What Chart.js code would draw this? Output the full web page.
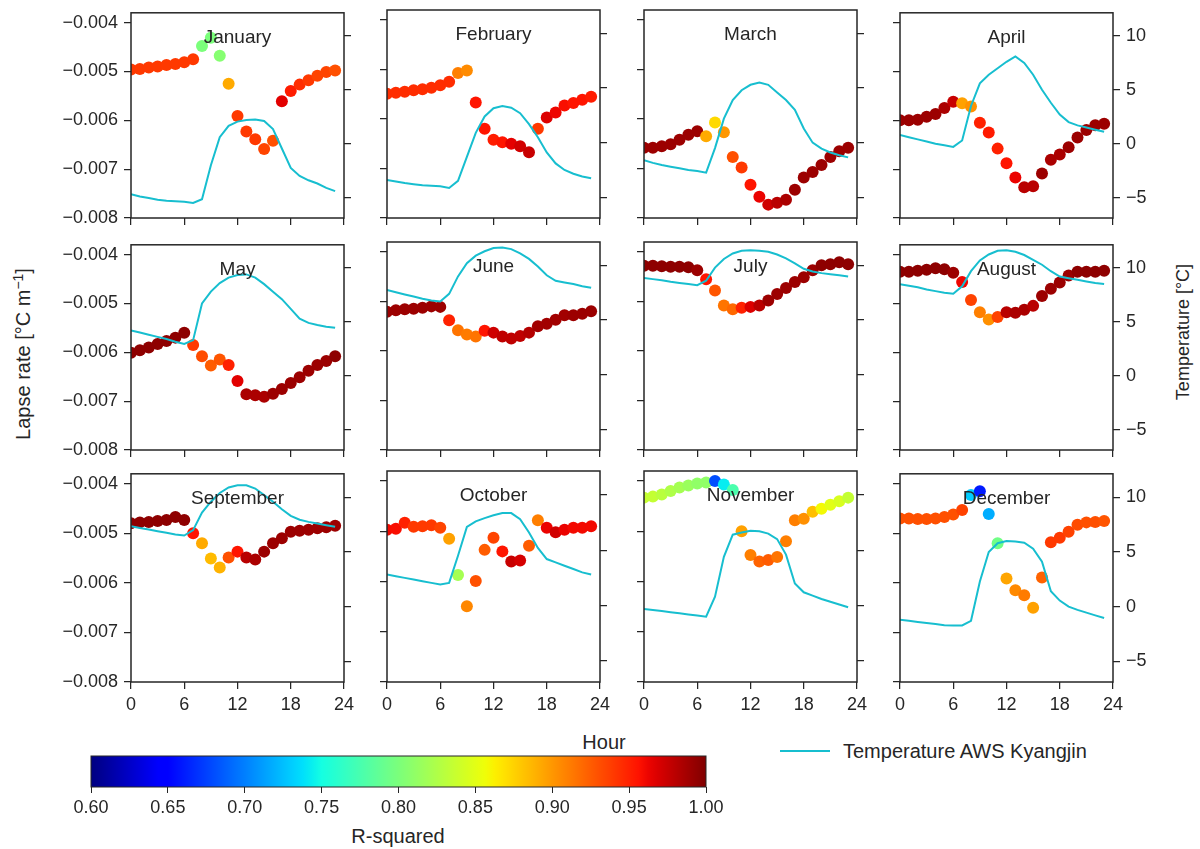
<!DOCTYPE html>
<html>
<head>
<meta charset="utf-8">
<script src="https://cdn.jsdelivr.net/npm/chart.js@4.4.0/dist/chart.umd.min.js"></script>
<style>
  body { margin: 0; background: #fff; }
  #fig { position: relative; width: 1200px; height: 849px; overflow: hidden;
         font-family: "Liberation Sans", Arial, sans-serif; color: #262626; }
  #fig canvas { position: absolute; }
  .lbl { position: absolute; white-space: nowrap; font-size: 18px; line-height: 1; }
  .big { font-size: 20px; }
  .rot { transform: translate(-50%, -50%) rotate(-90deg); }
  .ctr { transform: translate(-50%, -50%); }
</style>
</head>
<body>
<div id="fig">
  <div class="lbl rot" style="left:22px; top:354px; font-size:20px;">Lapse rate [°C m<sup style="font-size:14px">−1</sup>]</div>
  <div class="lbl rot" style="left:1183px; top:332px;">Temperature [°C]</div>
  <div class="lbl big ctr" style="left:604px; top:742px;">Hour</div>
  <div class="lbl big ctr" style="left:398px; top:836px;">R-squared</div>
  <div style="position:absolute; left:780px; top:750px; width:50px; height:2px; background:#17becf;"></div>
  <div class="lbl big" style="left:843px; top:741px;">Temperature AWS Kyangjin</div>
</div>
<script>
const hours = [0, 1, 2, 3, 4, 5, 6, 7, 8, 9, 10, 11, 12, 13, 14, 15, 16, 17, 18, 19, 20, 21, 22, 23];
const monthNames = ['January', 'February', 'March', 'April', 'May', 'June',
  'July', 'August', 'September', 'October', 'November', 'December'];

// lapse rate [°C/m] per hour
const lapseJan = [-0.00496, -0.00495, -0.00492, -0.00490, -0.00487, -0.00485, -0.00481, -0.00475, -0.00448, -0.00431, -0.00468, -0.00525, -0.00591, -0.00623, -0.00639, -0.00659, -0.00642, -0.00561, -0.00540, -0.00527, -0.00518, -0.00509, -0.00501, -0.00498];
const lapseFeb = [-0.00549, -0.00547, -0.00545, -0.00542, -0.00540, -0.00537, -0.00532, -0.00525, -0.00507, -0.00502, -0.00567, -0.00620, -0.00642, -0.00647, -0.00650, -0.00655, -0.00667, -0.00620, -0.00597, -0.00587, -0.00573, -0.00568, -0.00561, -0.00555];
const lapseMar = [-0.00658, -0.00658, -0.00655, -0.00651, -0.00642, -0.00632, -0.00625, -0.00635, -0.00607, -0.00627, -0.00677, -0.00698, -0.00733, -0.00757, -0.00773, -0.00769, -0.00763, -0.00743, -0.00718, -0.00707, -0.00693, -0.00677, -0.00665, -0.00658];
const lapseApr = [-0.00600, -0.00600, -0.00599, -0.00593, -0.00587, -0.00575, -0.00562, -0.00565, -0.00572, -0.00605, -0.00625, -0.00658, -0.00688, -0.00717, -0.00737, -0.00735, -0.00709, -0.00681, -0.00670, -0.00655, -0.00635, -0.00620, -0.00610, -0.00607];
const lapseMay = [-0.00601, -0.00596, -0.00590, -0.00583, -0.00577, -0.00570, -0.00560, -0.00585, -0.00608, -0.00627, -0.00615, -0.00626, -0.00659, -0.00686, -0.00688, -0.00691, -0.00685, -0.00675, -0.00663, -0.00651, -0.00638, -0.00626, -0.00618, -0.00608];
const lapseJun = [-0.00521, -0.00518, -0.00516, -0.00515, -0.00513, -0.00510, -0.00511, -0.00538, -0.00558, -0.00567, -0.00571, -0.00559, -0.00563, -0.00571, -0.00575, -0.00570, -0.00563, -0.00550, -0.00545, -0.00537, -0.00528, -0.00528, -0.00525, -0.00520];
const lapseJul = [-0.00428, -0.00428, -0.00429, -0.00430, -0.00430, -0.00431, -0.00437, -0.00455, -0.00478, -0.00508, -0.00516, -0.00513, -0.00511, -0.00508, -0.00498, -0.00485, -0.00473, -0.00461, -0.00451, -0.00437, -0.00427, -0.00425, -0.00421, -0.00425];
const lapseAug = [-0.00435, -0.00435, -0.00433, -0.00431, -0.00428, -0.00430, -0.00437, -0.00456, -0.00493, -0.00518, -0.00533, -0.00528, -0.00518, -0.00519, -0.00513, -0.00505, -0.00485, -0.00470, -0.00457, -0.00443, -0.00435, -0.00435, -0.00435, -0.00433];
const lapseSep = [-0.00480, -0.00478, -0.00477, -0.00475, -0.00473, -0.00467, -0.00473, -0.00500, -0.00520, -0.00551, -0.00569, -0.00549, -0.00537, -0.00549, -0.00553, -0.00537, -0.00520, -0.00510, -0.00497, -0.00495, -0.00493, -0.00490, -0.00488, -0.00485];
const lapseOct = [-0.00497, -0.00495, -0.00483, -0.00491, -0.00490, -0.00488, -0.00493, -0.00515, -0.00587, -0.00649, -0.00599, -0.00537, -0.00513, -0.00540, -0.00560, -0.00558, -0.00529, -0.00478, -0.00493, -0.00502, -0.00497, -0.00493, -0.00493, -0.00490];
const lapseNov = [-0.00433, -0.00431, -0.00427, -0.00420, -0.00413, -0.00409, -0.00405, -0.00403, -0.00400, -0.00407, -0.00418, -0.00500, -0.00547, -0.00560, -0.00557, -0.00551, -0.00520, -0.00478, -0.00475, -0.00461, -0.00455, -0.00447, -0.00440, -0.00433];
const lapseDec = [-0.00470, -0.00470, -0.00471, -0.00471, -0.00470, -0.00467, -0.00462, -0.00453, -0.00423, -0.00415, -0.00461, -0.00520, -0.00591, -0.00615, -0.00625, -0.00650, -0.00589, -0.00518, -0.00509, -0.00497, -0.00483, -0.00478, -0.00477, -0.00475];

// R-squared of each hourly fit
const r2Jan = [0.94, 0.94, 0.94, 0.94, 0.94, 0.94, 0.94, 0.94, 0.80, 0.80, 0.805, 0.892, 0.94, 0.94, 0.94, 0.935, 0.93, 0.966, 0.952, 0.945, 0.94, 0.935, 0.935, 0.93];
const r2Feb = [0.945, 0.945, 0.945, 0.945, 0.945, 0.945, 0.945, 0.945, 0.91, 0.905, 0.955, 0.955, 0.952, 0.955, 0.965, 0.972, 0.975, 0.94, 0.968, 0.962, 0.958, 0.955, 0.955, 0.952];
const r2Mar = [0.99, 0.99, 0.99, 0.99, 0.99, 0.99, 0.99, 0.892, 0.872, 0.90, 0.93, 0.94, 0.955, 0.963, 0.973, 0.98, 0.985, 0.99, 0.99, 0.99, 0.99, 0.99, 0.99, 0.99];
const r2Apr = [0.99, 0.99, 0.99, 0.99, 0.99, 0.985, 0.975, 0.896, 0.902, 0.95, 0.953, 0.95, 0.955, 0.963, 0.98, 0.98, 0.99, 0.985, 0.985, 0.99, 0.99, 0.99, 0.99, 0.99];
const r2May = [0.995, 0.995, 0.995, 0.995, 0.995, 0.995, 0.995, 0.94, 0.932, 0.925, 0.928, 0.95, 0.966, 0.985, 0.985, 0.985, 0.99, 0.99, 0.99, 0.99, 0.99, 0.99, 0.99, 0.995];
const r2Jun = [0.99, 0.99, 0.99, 0.99, 0.99, 0.99, 0.99, 0.95, 0.915, 0.912, 0.915, 0.955, 0.973, 0.978, 0.978, 0.978, 0.982, 0.988, 0.988, 0.988, 0.988, 0.99, 0.99, 0.99];
const r2Jul = [0.995, 0.995, 0.995, 0.995, 0.995, 0.995, 0.99, 0.955, 0.928, 0.915, 0.92, 0.95, 0.968, 0.98, 0.99, 0.99, 0.99, 0.99, 0.99, 0.99, 0.995, 0.995, 0.995, 0.995];
const r2Aug = [0.995, 0.995, 0.995, 0.995, 0.995, 0.995, 0.99, 0.962, 0.936, 0.91, 0.903, 0.936, 0.98, 0.985, 0.985, 0.98, 0.99, 0.99, 0.99, 0.99, 0.995, 0.995, 0.995, 0.995];
const r2Sep = [0.995, 0.995, 0.995, 0.995, 0.995, 0.995, 0.995, 0.955, 0.892, 0.885, 0.888, 0.93, 0.955, 0.98, 0.985, 0.99, 0.99, 0.99, 0.99, 0.99, 0.99, 0.99, 0.99, 0.99];
const r2Oct = [0.96, 0.958, 0.95, 0.94, 0.94, 0.94, 0.935, 0.896, 0.82, 0.907, 0.93, 0.925, 0.935, 0.955, 0.975, 0.97, 0.925, 0.91, 0.963, 0.972, 0.963, 0.96, 0.96, 0.96];
const r2Nov = [0.836, 0.835, 0.83, 0.825, 0.82, 0.815, 0.81, 0.81, 0.68, 0.743, 0.776, 0.896, 0.91, 0.922, 0.925, 0.915, 0.91, 0.91, 0.903, 0.883, 0.858, 0.85, 0.845, 0.835];
const r2Dec = [0.93, 0.93, 0.93, 0.93, 0.93, 0.93, 0.93, 0.936, 0.73, 0.66, 0.718, 0.795, 0.894, 0.906, 0.912, 0.896, 0.922, 0.94, 0.94, 0.936, 0.932, 0.93, 0.93, 0.928];

// temperature at AWS Kyangjin [°C]
const tempJan = [-4.7, -4.9, -5.05, -5.2, -5.3, -5.35, -5.4, -5.5, -5.15, -2.0, 0.6, 1.65, 2.05, 2.2, 2.25, 2.1, 1.35, -0.45, -2.25, -3.0, -3.4, -3.7, -4.1, -4.4];
const tempFeb = [-3.42, -3.55, -3.7, -3.8, -3.9, -3.95, -4.0, -4.15, -3.5, -1.3, 0.9, 2.4, 3.15, 3.35, 3.2, 2.7, 1.7, 0.5, -0.9, -1.9, -2.5, -2.85, -3.1, -3.25];
const tempMar = [-1.6, -1.85, -2.05, -2.2, -2.35, -2.5, -2.6, -2.75, -0.5, 2.2, 3.9, 4.8, 5.3, 5.5, 5.3, 4.6, 3.9, 3.0, 1.3, 0.0, -0.55, -0.9, -1.15, -1.35];
const tempApr = [0.8, 0.6, 0.4, 0.2, 0.0, -0.15, -0.3, 0.3, 3.5, 5.6, 6.4, 7.0, 7.6, 8.1, 7.5, 6.4, 5.0, 3.8, 2.7, 2.0, 1.7, 1.5, 1.3, 1.1];
const tempMay = [4.2, 4.0, 3.8, 3.6, 3.4, 3.15, 2.95, 3.3, 6.7, 7.8, 8.6, 9.1, 9.35, 9.4, 9.1, 8.5, 7.8, 7.1, 6.2, 5.3, 4.9, 4.7, 4.55, 4.45];
const tempJun = [7.75, 7.55, 7.35, 7.15, 6.95, 6.8, 6.7, 7.4, 9.0, 10.2, 10.9, 11.3, 11.6, 11.65, 11.5, 11.1, 10.6, 9.9, 9.1, 8.6, 8.45, 8.3, 8.1, 7.95];
const tempJul = [8.85, 8.75, 8.65, 8.5, 8.4, 8.3, 8.2, 8.6, 9.8, 10.6, 11.1, 11.35, 11.4, 11.35, 11.25, 11.0, 10.65, 10.2, 9.7, 9.45, 9.3, 9.2, 9.1, 9.0];
const tempAug = [8.5, 8.35, 8.2, 8.0, 7.85, 7.7, 7.6, 8.3, 9.7, 10.7, 11.25, 11.6, 11.65, 11.5, 11.2, 10.75, 10.3, 9.7, 9.2, 9.05, 8.9, 8.75, 8.6, 8.5];
const tempSep = [7.35, 7.2, 7.05, 6.9, 6.75, 6.6, 6.5, 7.0, 8.6, 9.6, 10.4, 10.9, 11.1, 11.1, 10.8, 10.2, 9.6, 8.9, 8.3, 7.95, 7.75, 7.6, 7.45, 7.3];
const tempOct = [2.8, 2.65, 2.5, 2.35, 2.2, 2.05, 1.9, 2.05, 4.5, 7.1, 7.6, 7.9, 8.15, 8.35, 8.35, 7.8, 6.6, 5.2, 4.2, 3.9, 3.6, 3.3, 3.0, 2.8];
const tempNov = [-0.3, -0.4, -0.5, -0.6, -0.7, -0.8, -0.9, -1.0, 0.8, 4.4, 6.4, 6.6, 6.75, 6.7, 6.5, 6.0, 4.6, 2.0, 1.2, 0.9, 0.6, 0.35, 0.1, -0.15];
const tempDec = [-1.2, -1.3, -1.4, -1.5, -1.6, -1.7, -1.72, -1.72, -1.3, 2.3, 5.0, 5.8, 6.0, 5.95, 5.85, 5.3, 4.1, 1.4, 0.55, 0.0, -0.3, -0.55, -0.8, -1.05];

const lapseTicks = [-0.008, -0.007, -0.006, -0.005, -0.004];
const tempTicks = [-5, 0, 5, 10];
const hourTicks = [0, 6, 12, 18, 24];
const r2Ticks = [0.60, 0.65, 0.70, 0.75, 0.80, 0.85, 0.90, 0.95, 1.00];

const lapseSeries = [lapseJan, lapseFeb, lapseMar, lapseApr, lapseMay, lapseJun, lapseJul, lapseAug, lapseSep, lapseOct, lapseNov, lapseDec];
const r2Series = [r2Jan, r2Feb, r2Mar, r2Apr, r2May, r2Jun, r2Jul, r2Aug, r2Sep, r2Oct, r2Nov, r2Dec];
const tempSeries = [tempJan, tempFeb, tempMar, tempApr, tempMay, tempJun, tempJul, tempAug, tempSep, tempOct, tempNov, tempDec];

// matplotlib "jet" colormap, R-squared range 0.6 - 1.0
const jetRed = [[0, 0], [0.35, 0], [0.66, 1], [0.89, 1], [1, 0.5]];
const jetGreen = [[0, 0], [0.125, 0], [0.375, 1], [0.64, 1], [0.91, 0], [1, 0]];
const jetBlue = [[0, 0.5], [0.11, 1], [0.34, 1], [0.65, 0], [1, 0]];
function interp(pts, t) {
  for (let i = 1; i < pts.length; i++) {
    if (t <= pts[i][0]) {
      const f = (t - pts[i - 1][0]) / (pts[i][0] - pts[i - 1][0]);
      return pts[i - 1][1] + f * (pts[i][1] - pts[i - 1][1]);
    }
  }
  return pts[pts.length - 1][1];
}
function jet(v) {
  const t = Math.min(1, Math.max(0, (v - 0.6) / 0.4));
  const c = [jetRed, jetGreen, jetBlue].map(p => Math.round(interp(p, t) * 255));
  return `rgb(${c[0]},${c[1]},${c[2]})`;
}

const ink = '#262626';
const lineColor = '#17becf';
const font = { family: 'Liberation Sans, Arial, sans-serif', size: 18 };
const colLeft = [131, 387, 644, 900];
const rowTop = [10, 242, 471];
const rowHeight = [208, 208, 211];
const panelW = 213;
// canvas margins around each panel; padT is larger than half a tick label
// so Chart.js does not push the plot area down
const padL = 70, padR = 50, padT = 14, padB = 34;

const framePlugin = {
  id: 'frame',
  afterDraw(chart) {
    const a = chart.chartArea, ctx = chart.ctx;
    ctx.save();
    ctx.strokeStyle = ink;
    ctx.lineWidth = 1.5;
    ctx.strokeRect(a.left, a.top, a.right - a.left, a.bottom - a.top);
    ctx.restore();
  }
};

const titlePlugin = {
  id: 'monthTitle',
  afterDatasetsDraw(chart, args, opts) {
    if (!opts.text) return;
    const a = chart.chartArea, ctx = chart.ctx;
    ctx.save();
    ctx.font = '19px "Liberation Sans", Arial, sans-serif';
    ctx.fillStyle = ink;
    ctx.textAlign = 'center';
    ctx.textBaseline = 'middle';
    ctx.fillText(opts.text, (a.left + a.right) / 2, a.top + 25);
    ctx.restore();
  }
};

function tickGrid() {
  return { drawOnChartArea: false, drawTicks: true, tickLength: 7, color: ink, lineWidth: 1.25 };
}

const fig = document.getElementById('fig');

monthNames.forEach((name, m) => {
  const row = Math.floor(m / 4), col = m % 4;
  const h = rowHeight[row];
  const cv = document.createElement('canvas');
  cv.width = padL + panelW + padR;
  cv.height = padT + h + padB;
  cv.style.left = (colLeft[col] - padL) + 'px';
  cv.style.top = (rowTop[row] - padT) + 'px';
  fig.appendChild(cv);

  new Chart(cv, {
    type: 'line',
    data: {
      datasets: [{
        type: 'line',
        data: hours.map((hr, i) => ({ x: hr, y: tempSeries[m][i] })),
        yAxisID: 'y2',
        borderColor: lineColor,
        borderWidth: 2,
        pointRadius: 0,
        tension: 0,
        fill: false,
        order: 0
      }, {
        type: 'scatter',
        data: hours.map((hr, i) => ({ x: hr, y: lapseSeries[m][i] })),
        yAxisID: 'y',
        backgroundColor: r2Series[m].map(jet),
        pointBackgroundColor: r2Series[m].map(jet),
        pointRadius: 6,
        borderWidth: 0,
        pointBorderWidth: 0,
        order: 1
      }]
    },
    options: {
      responsive: false,
      animation: false,
      events: [],
      layout: { padding: { top: padT, left: 0, right: 0, bottom: 0 } },
      plugins: { legend: { display: false }, tooltip: { enabled: false }, monthTitle: { text: name } },
      scales: {
        x: {
          type: 'linear', position: 'bottom', min: 0, max: 24,
          afterBuildTicks: s => { s.ticks = hourTicks.map(v => ({ value: v })); },
          afterFit: s => { s.height = padB; },
          grid: tickGrid(),
          border: { display: false },
          ticks: { display: row === 2, padding: 5, color: ink, font, maxRotation: 0, autoSkip: false }
        },
        y: {
          type: 'linear', position: 'left', min: -0.008, max: -0.0038,
          afterBuildTicks: s => { s.ticks = lapseTicks.map(v => ({ value: v })); },
          afterFit: s => { s.width = padL; },
          grid: tickGrid(),
          border: { display: false },
          ticks: { display: col === 0, padding: 6, color: ink, font, autoSkip: false,
                   callback: v => v.toFixed(3).replace('-', '\u2212') }
        },
        y2: {
          type: 'linear', position: 'right', min: -6.9, max: 12.15,
          afterBuildTicks: s => { s.ticks = tempTicks.map(v => ({ value: v })); },
          afterFit: s => { s.width = padR; },
          grid: tickGrid(),
          border: { display: false },
          ticks: { display: col === 3, padding: 6, color: ink, font, autoSkip: false,
                   callback: v => String(v).replace('-', '\u2212') }
        }
      }
    },
    plugins: [framePlugin, titlePlugin]
  });
});

// colorbar
const cbLeft = 91, cbRight = 706, cbTop = 756, cbBottom = 787;
const cbPad = 40, cbTopPad = 6;
const cbCanvas = document.createElement('canvas');
cbCanvas.width = (cbRight - cbLeft) + 2 * cbPad;
cbCanvas.height = 849 - (cbTop - cbTopPad);
cbCanvas.style.left = (cbLeft - cbPad) + 'px';
cbCanvas.style.top = (cbTop - cbTopPad) + 'px';
fig.appendChild(cbCanvas);

const gradientPlugin = {
  id: 'cbGradient',
  beforeDatasetsDraw(chart) {
    const a = chart.chartArea, ctx = chart.ctx, xs = chart.scales.x;
    const x0 = xs.getPixelForValue(0.6), x1 = xs.getPixelForValue(1.0);
    const g = ctx.createLinearGradient(x0, 0, x1, 0);
    for (let i = 0; i <= 64; i++) g.addColorStop(i / 64, jet(0.6 + 0.4 * i / 64));
    ctx.save();
    ctx.fillStyle = g;
    ctx.fillRect(a.left, a.top, a.right - a.left, a.bottom - a.top);
    ctx.strokeStyle = ink;
    ctx.lineWidth = 1;
    ctx.strokeRect(a.left, a.top, a.right - a.left, a.bottom - a.top);
    ctx.restore();
  }
};

new Chart(cbCanvas, {
  type: 'scatter',
  data: { datasets: [] },
  options: {
    responsive: false,
    animation: false,
    events: [],
    layout: { padding: { top: cbTopPad, left: cbPad, right: cbPad, bottom: 0 } },
    plugins: { legend: { display: false }, tooltip: { enabled: false } },
    scales: {
      x: {
        type: 'linear', position: 'bottom', min: 0.6, max: 1.0,
        afterBuildTicks: s => { s.ticks = r2Ticks.map(v => ({ value: v })); },
        afterFit: s => { s.height = cbCanvas.height - cbTopPad - (cbBottom - cbTop); },
        grid: { drawOnChartArea: false, drawTicks: true, tickLength: 6, color: ink, lineWidth: 1 },
        border: { display: false },
        ticks: { padding: 4, color: ink, font, maxRotation: 0, autoSkip: false,
                 callback: v => v.toFixed(2) }
      },
      y: { display: false, min: 0, max: 1 }
    }
  },
  plugins: [gradientPlugin]
});
</script>
</body>
</html>
